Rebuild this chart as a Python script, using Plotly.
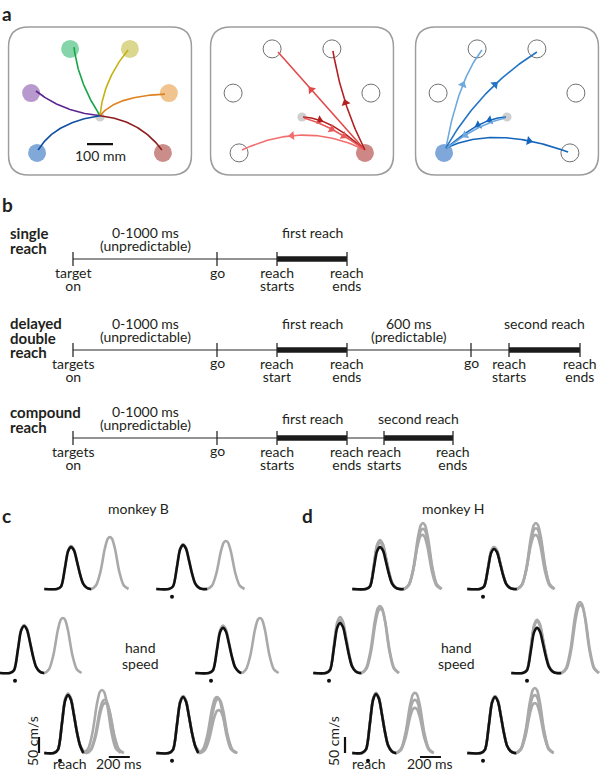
import numpy as np
import plotly.graph_objects as go

W, H = 600, 774
FONT = "Lato"
INK = "#231f20"

# ======================= DATA =======================
# ---- panel a: centre-out targets (mm, relative to the central start target)
TARGET_X_MM = [-115, 115, -265, 265, -242, 242]
TARGET_Y_MM = [262, 262, 92, 92, -138, -138]
TARGET_COLORS = ["#86d5aa", "#dcd78f", "#b899cd", "#f1c48f", "#80a9da", "#ca8d89"]
# single reaches: centre -> target (quadratic path, mm)
REACH_START = [0, 5]
REACH_CTRL_X = [-85, 12, -146, 58, -173, 154]
REACH_CTRL_Y = [135, 142, 19, 81, -19, -12]
REACH_END_X = [-100, 108, -246, 250, -238, 238]
REACH_END_Y = [269, 258, 100, 88, -127, -127]
REACH_COLORS = ["#17a647", "#c5b212", "#5b2592", "#e0821f", "#104fa2", "#8d1d1d"]
SCALE_BAR_MM = 100

# double / compound reaches from the lower-right target (mm)
RED_START_X = [242, 242, 242, 4, 8]
RED_START_Y = [-127, -127, -127, 0, -4]
RED_CTRL_X = [12, 62, 154, 108, 100]
RED_CTRL_Y = [-12, 73, 46, -4, -27]
RED_END_X = [-231, -92, 119, 231, 231]
RED_END_Y = [-127, 250, 254, -119, -119]
RED_COLORS = ["#f26e6e", "#e24a4a", "#b31f1f", "#b31f1f", "#e85a5a"]
RED_ARROWS = [[0.6], [0.6], [0.5], [0.3], [0.52, 0.72]]

# double / compound reaches from the lower-left target (mm)
BLUE_START_X = [-235, -235, -235, -4, -8]
BLUE_START_Y = [-119, -119, -119, 0, -4]
BLUE_CTRL_X = [-188, -104, -46, -104, -112]
BLUE_CTRL_Y = [142, 112, -31, -4, -27]
BLUE_END_X = [-96, 115, 235, -231, -231]
BLUE_END_Y = [258, 250, -135, -119, -119]
BLUE_COLORS = ["#6fa9de", "#2374c4", "#1466bd", "#1466bd", "#6fa9de"]
BLUE_ARROWS = [[0.55], [0.6], [0.72], [0.3, 0.5], [0.7]]

# ---- panel b: task timelines (schematic time units)
ROW_TITLES = [["single", "reach"], ["delayed", "double", "reach"], ["compound", "reach"]]
SINGLE_EVENTS = [0, 144, 204, 274]
SINGLE_LABELS = ["target|on", "go", "reach|starts", "reach|ends"]
DOUBLE_EVENTS = [0, 144, 204, 274, 398, 436, 507]
DOUBLE_LABELS = ["targets|on", "go", "reach|start", "reach|ends", "go", "reach|starts", "reach|ends"]
COMPOUND_EVENTS = [0, 144, 204, 274, 311, 380]
COMPOUND_LABELS = ["targets|on", "go", "reach|starts", "reach|ends", "reach|starts", "reach|ends"]
SINGLE_BARS = [(2, 3)]
DOUBLE_BARS = [(2, 3), (5, 6)]
COMPOUND_BARS = [(2, 3), (4, 5)]
SINGLE_INTERVALS = [(0, 1, "0-1000 ms|(unpredictable)"), (2, 3, "first reach")]
DOUBLE_INTERVALS = [(0, 1, "0-1000 ms|(unpredictable)"), (2, 3, "first reach"),
                    (3, 4, "600 ms|(predictable)"), (5, 6, "second reach")]
COMPOUND_INTERVALS = [(0, 1, "0-1000 ms|(unpredictable)"), (2, 3, "first reach"),
                      (4, 5, "second reach")]

# ---- panels c, d: hand speed (ms from reach onset, cm/s)
FIRST_SHAPE_T = [-135, -95, -58, -28, 0, 28, 56, 85, 115, 150, 185]
FIRST_SHAPE_V = [0, 0.06, 0.5, 0.9, 1, 0.92, 0.66, 0.36, 0.13, 0.03, 0]
SECOND_SHAPE_T = [-178, -132, -90, -48, -20, 0, 20, 48, 90, 132, 178]
SECOND_SHAPE_V = [0, 0.07, 0.33, 0.78, 0.97, 1, 0.97, 0.78, 0.33, 0.07, 0]
T_START = -150

# order: top-left, top-right, middle-left, middle-right, bottom-left, bottom-right
C_FIRST_PEAK_T = [105, 105, 86, 114, 76, 105]
C_BLACK_PEAK_V = [131, 137, 147, 141, 181, 175]
C_GRAY_FIRST_V = [[134], [140], [150], [148], [186, 183, 184], [178, 176, 177]]
C_GRAY_SECOND_T = [[475], [513], [456], [466], [400, 425, 430], [428, 440, 445]]
C_GRAY_SECOND_V = [[162], [150], [172], [172], [197, 166, 156], [175, 169, 134]]

D_FIRST_PEAK_T = [114, 105, 105, 95, 76, 114]
D_BLACK_PEAK_V = [131, 125, 156, 141, 184, 175]
D_GRAY_FIRST_V = [[153, 145, 148], [131, 128, 130], [175, 165], [166, 160],
                  [188, 186, 185], [178, 177, 176]]
D_GRAY_SECOND_T = [[523, 523, 518], [504, 504, 500], [485, 490], [504, 510],
                   [447, 447, 447], [494, 494, 494]]
D_GRAY_SECOND_V = [[206, 188, 169], [206, 190, 169], [209, 200], [222, 212],
                   [188, 166, 141], [203, 181, 156]]
SPEED_BAR = 50      # cm/s
TIME_BAR = 200      # ms
REACH_DOT_V = -24   # cm/s, marker under reach onset

# ======================= LAYOUT HELPERS =======================
fig = go.Figure()
layout_axes = {}
shapes = []
ann = []
LINE_PITCH = 13.0
LABEL_SIZE = 14


def names(n):
    if n == 1:
        return "x", "y", "xaxis", "yaxis"
    return f"x{n}", f"y{n}", f"xaxis{n}", f"yaxis{n}"


def add_axes(n, x0, x1, y0, y1, xr, yr):
    xn, yn, xk, yk = names(n)
    layout_axes[xk] = dict(domain=[max(0, x0 / W), min(1, x1 / W)], range=xr, visible=False,
                           anchor=yn, fixedrange=True)
    layout_axes[yk] = dict(domain=[max(0, 1 - y1 / H), min(1, 1 - y0 / H)], range=yr, visible=False,
                           anchor=xn, fixedrange=True)
    return xn, yn


def text(x, y, s, size=14, xref="paper", yref="paper", xanchor="center", yanchor="middle",
         angle=0, bold=False, color=INK):
    if xref == "paper":
        x = x / W
    if yref == "paper":
        y = 1 - y / H
    if bold:
        s = f"<b>{s}</b>"
    ann.append(dict(x=x, y=y, xref=xref, yref=yref, text=s, showarrow=False, xanchor=xanchor,
                    yanchor=yanchor, textangle=angle,
                    font=dict(family=FONT, size=size, color=color)))


def mtext(x, y_first, lines, spacing, size=LABEL_SIZE, xref="paper", xanchor="center", bold=False):
    """multi-line text in a single annotation with a tight line pitch"""
    if len(lines) == 1:
        text(x, y_first, lines[0], size=size, xref=xref, xanchor=xanchor, bold=bold)
        return
    parts = []
    for ln in lines:
        s = f"<span style='font-size:{size}px'>{ln}</span>"
        if bold:
            s = f"<b>{s}</b>"
        parts.append(s)
    ymid = y_first + spacing * (len(lines) - 1) / 2
    if xref == "paper":
        x = x / W
    ann.append(dict(x=x, y=1 - ymid / H, xref=xref, yref="paper", text="<br>".join(parts),
                    showarrow=False, xanchor=xanchor, yanchor="middle",
                    align="left" if xanchor == "left" else "center",
                    font=dict(family=FONT, size=spacing / 1.3, color=INK)))


def bez(p0, c, p2, t):
    t = np.asarray(t, dtype=float)[:, None]
    p0, c, p2 = np.array(p0, float), np.array(c, float), np.array(p2, float)
    pts = (1 - t) ** 2 * p0 + 2 * t * (1 - t) * c + t ** 2 * p2
    tan = 2 * (1 - t) * (c - p0) + 2 * t * (p2 - c)
    return pts, tan


def draw_path(xn, yn, p0, c, p2, color, arrows, width=1.6):
    pts, _ = bez(p0, c, p2, np.linspace(0, 1, 60))
    fig.add_trace(go.Scatter(x=pts[:, 0], y=pts[:, 1], mode="lines", xaxis=xn, yaxis=yn,
                             line=dict(color=color, width=width), hoverinfo="skip"))
    if arrows:
        apts, atan = bez(p0, c, p2, arrows)
        angles = np.degrees(np.arctan2(atan[:, 0], atan[:, 1]))
        fig.add_trace(go.Scatter(x=apts[:, 0], y=apts[:, 1], mode="markers", xaxis=xn, yaxis=yn,
                                 marker=dict(symbol="triangle-up", size=8, color=color,
                                             angle=angles, line=dict(width=0)),
                                 hoverinfo="skip"))


# ======================= PANEL a =======================
MM_PX = 100 / 26.0
BOX_CX = [100, 302, 507]
BOX_CY = 117
XR = [-356, 356]
YR = [-240, 360]
R_T = 9 * MM_PX
R_C = 4.6 * MM_PX
BX0, BX1, BY0, BY1, BR = -352, 352, -223, 346, 78
box_path = (f"M {BX0+BR},{BY1} L {BX1-BR},{BY1} Q {BX1},{BY1} {BX1},{BY1-BR} "
            f"L {BX1},{BY0+BR} Q {BX1},{BY0} {BX1-BR},{BY0} L {BX0+BR},{BY0} "
            f"Q {BX0},{BY0} {BX0},{BY0+BR} L {BX0},{BY1-BR} Q {BX0},{BY1} {BX0+BR},{BY1} Z")

for b, cx in enumerate(BOX_CX):
    n = b + 1
    xn, yn = add_axes(n, cx + XR[0] / MM_PX, cx + XR[1] / MM_PX,
                      BOX_CY - YR[1] / MM_PX, BOX_CY - YR[0] / MM_PX, XR, YR)
    shapes.append(dict(type="path", path=box_path, xref=xn, yref=yn, layer="below",
                       line=dict(color="#9d9d9d", width=1.6)))
    for i, (tx, ty) in enumerate(zip(TARGET_X_MM, TARGET_Y_MM)):
        if b == 0:
            fill, lc, lw = TARGET_COLORS[i], "rgba(0,0,0,0)", 0
        elif b == 1 and i == 5:
            fill, lc, lw = "#cd8784", "rgba(0,0,0,0)", 0
        elif b == 2 and i == 4:
            fill, lc, lw = "#7fa7d9", "rgba(0,0,0,0)", 0
        else:
            fill, lc, lw = "rgba(0,0,0,0)", "#707070", 1
        shapes.append(dict(type="circle", xref=xn, yref=yn, layer="below",
                           x0=tx - R_T, x1=tx + R_T, y0=ty - R_T, y1=ty + R_T,
                           fillcolor=fill, line=dict(color=lc, width=lw)))
    shapes.append(dict(type="circle", xref=xn, yref=yn, layer="below",
                       x0=-R_C, x1=R_C, y0=-R_C, y1=R_C, fillcolor="#cfcfcf",
                       line=dict(width=0)))

    if b == 0:
        for i in range(6):
            draw_path(xn, yn, REACH_START, [REACH_CTRL_X[i], REACH_CTRL_Y[i]],
                      [REACH_END_X[i], REACH_END_Y[i]], REACH_COLORS[i], None)
        fig.add_trace(go.Scatter(x=[-SCALE_BAR_MM / 2, SCALE_BAR_MM / 2], y=[-104, -104],
                                 mode="lines", xaxis=xn, yaxis=yn,
                                 line=dict(color="#111", width=2.2), hoverinfo="skip"))
    elif b == 1:
        for i in range(len(RED_END_X)):
            draw_path(xn, yn, [RED_START_X[i], RED_START_Y[i]], [RED_CTRL_X[i], RED_CTRL_Y[i]],
                      [RED_END_X[i], RED_END_Y[i]], RED_COLORS[i], RED_ARROWS[i])
    else:
        for i in range(len(BLUE_END_X)):
            draw_path(xn, yn, [BLUE_START_X[i], BLUE_START_Y[i]],
                      [BLUE_CTRL_X[i], BLUE_CTRL_Y[i]],
                      [BLUE_END_X[i], BLUE_END_Y[i]], BLUE_COLORS[i], BLUE_ARROWS[i])

text(0, 0, "a", size=19, bold=True, xanchor="left", yanchor="top")
text(100, 155, "100 mm", size=14)

# ======================= PANEL b =======================
text(0, 205, "b", size=19, bold=True, xanchor="left")
ROW_Y = [259, 350, 438]
ROW_DEFS = [
    (SINGLE_EVENTS, SINGLE_LABELS, SINGLE_BARS, SINGLE_INTERVALS),
    (DOUBLE_EVENTS, DOUBLE_LABELS, DOUBLE_BARS, DOUBLE_INTERVALS),
    (COMPOUND_EVENTS, COMPOUND_LABELS, COMPOUND_BARS, COMPOUND_INTERVALS),
]
for r, (ev, labs, bars, ints) in enumerate(ROW_DEFS):
    n = 4 + r
    y0 = ROW_Y[r]
    xn, yn = add_axes(n, 0, W, y0 - 10, y0 + 10, [-73, W - 73], [-1, 1])
    fig.add_trace(go.Scatter(x=[ev[0], ev[-1]], y=[0, 0], mode="lines", xaxis=xn, yaxis=yn,
                             line=dict(color="#6f6f6f", width=1.3), hoverinfo="skip"))
    for i, j in bars:
        fig.add_trace(go.Scatter(x=[ev[i], ev[j]], y=[0, 0], mode="lines", xaxis=xn, yaxis=yn,
                                 line=dict(color="#1b1b1b", width=5.5), hoverinfo="skip"))
    fig.add_trace(go.Scatter(x=ev, y=[0] * len(ev), mode="markers", xaxis=xn, yaxis=yn,
                             marker=dict(symbol="line-ns", size=10,
                                         line=dict(color="#2a2a2a", width=1.3)),
                             hoverinfo="skip"))
    for x, lab in zip(ev, labs):
        mtext(x, y0 + 13, lab.split("|"), LINE_PITCH, xref=xn)
    for i, j, lab in ints:
        parts = lab.split("|")
        xm = (ev[i] + ev[j]) / 2
        if len(parts) == 1 and r == 2:
            mtext(xm, y0 - 20, parts, LINE_PITCH, xref=xn)
        else:
            mtext(xm, y0 - 26.5, parts, LINE_PITCH, xref=xn)
    title_top = [233, 323, 412][r]
    mtext(8, title_top, ROW_TITLES[r], 14.5, size=15, bold=True, xanchor="left")

# ======================= PANELS c, d =======================
PX_PER_MS = 21 / 200.0
PX_PER_CMS = 16 / 50.0
C_POS = [(60, 589), (172, 589), (15, 673), (211, 673), (60, 753), (172, 753)]
D_POS = [(368, 589), (483, 589), (329, 673), (527, 673), (368, 753), (483, 753)]


def bell(peak_t, peak_v, shape_t, shape_v):
    return [peak_t + o for o in shape_t], [peak_v * l for l in shape_v]


def speed_panel(first_t, black_v, g1, g2t, g2v, pos, n0):
    axes = []
    for k in range(6):
        dx, by = pos[k]
        left = max(0.0, dx - 260 * PX_PER_MS)
        right = min(W, dx + 720 * PX_PER_MS)
        xr = [(left - dx) / PX_PER_MS, (right - dx) / PX_PER_MS]
        yr = [-40, 250]
        xn, yn = add_axes(n0 + k, left, right, by - 250 * PX_PER_CMS, by + 40 * PX_PER_CMS, xr, yr)
        axes.append((xn, yn))
        # grey: all trials, first + second reach
        for gv1, gt2, gv2 in zip(g1[k], g2t[k], g2v[k]):
            cut = gt2 + SECOND_SHAPE_T[0]
            ft, fv = bell(first_t[k], gv1, FIRST_SHAPE_T, FIRST_SHAPE_V)
            st, sv = bell(gt2, gv2, SECOND_SHAPE_T, SECOND_SHAPE_V)
            tt = [T_START] + [a for a in ft if a < cut] + st
            vv = [0] + [b for a, b in zip(ft, fv) if a < cut] + sv
            fig.add_trace(go.Scatter(x=tt, y=vv, mode="lines", xaxis=xn, yaxis=yn,
                                     line=dict(color="#a9a9a9", width=2.6, shape="spline",
                                               smoothing=0.8), hoverinfo="skip"))
        # black: first reach
        cut = min(g2t[k]) + SECOND_SHAPE_T[0]
        ft, fv = bell(first_t[k], black_v[k], FIRST_SHAPE_T, FIRST_SHAPE_V)
        tt = [T_START] + [a for a in ft if a < cut] + [cut]
        vv = [0] + [b for a, b in zip(ft, fv) if a < cut] + [0]
        fig.add_trace(go.Scatter(x=tt, y=vv, mode="lines", xaxis=xn, yaxis=yn,
                                 line=dict(color="#111111", width=2.6, shape="spline",
                                           smoothing=0.8), hoverinfo="skip"))
        fig.add_trace(go.Scatter(x=[0], y=[REACH_DOT_V], mode="markers", xaxis=xn, yaxis=yn,
                                 marker=dict(color="#111", size=4), hoverinfo="skip"))
    return axes


c_axes = speed_panel(C_FIRST_PEAK_T, C_BLACK_PEAK_V, C_GRAY_FIRST_V, C_GRAY_SECOND_T,
                     C_GRAY_SECOND_V, C_POS, 7)
d_axes = speed_panel(D_FIRST_PEAK_T, D_BLACK_PEAK_V, D_GRAY_FIRST_V, D_GRAY_SECOND_T,
                     D_GRAY_SECOND_V, D_POS, 13)

# scale bars in the bottom-left mini plots
for (xn, yn), vx, hx in [(c_axes[4], -200, 465), (d_axes[4], -219, 495)]:
    fig.add_trace(go.Scatter(x=[vx, vx], y=[0, SPEED_BAR], mode="lines", xaxis=xn, yaxis=yn,
                             line=dict(color="#111", width=2.2), hoverinfo="skip"))
    fig.add_trace(go.Scatter(x=[hx, hx + TIME_BAR], y=[-12.5, -12.5], mode="lines", xaxis=xn,
                             yaxis=yn, line=dict(color="#111", width=2.2), hoverinfo="skip"))

text(0, 515, "c", size=19, bold=True, xanchor="left")
text(300, 515, "d", size=19, bold=True, xanchor="left")
text(138, 508, "monkey B")
text(453, 508, "monkey H")
for hx in (140, 456):
    mtext(hx, 647, ["hand", "speed"], 16, size=14)
for vx in (32, 333):
    text(vx, 741, "50 cm/s", angle=-90)
for rx, tx in [(70, 119), (369, 430)]:
    text(rx, H, "reach", yanchor="bottom")
    text(tx, H, "200 ms", yanchor="bottom")

fig.update_layout(width=W, height=H, margin=dict(l=0, r=0, t=0, b=0),
                  paper_bgcolor="white", plot_bgcolor="white", showlegend=False,
                  hovermode=False, font=dict(family=FONT, color=INK),
                  shapes=shapes, annotations=ann, **layout_axes)

fig.write_html("out.html", config={"displayModeBar": False, "staticPlot": True},
               post_script="document.body.style.margin='0';")
